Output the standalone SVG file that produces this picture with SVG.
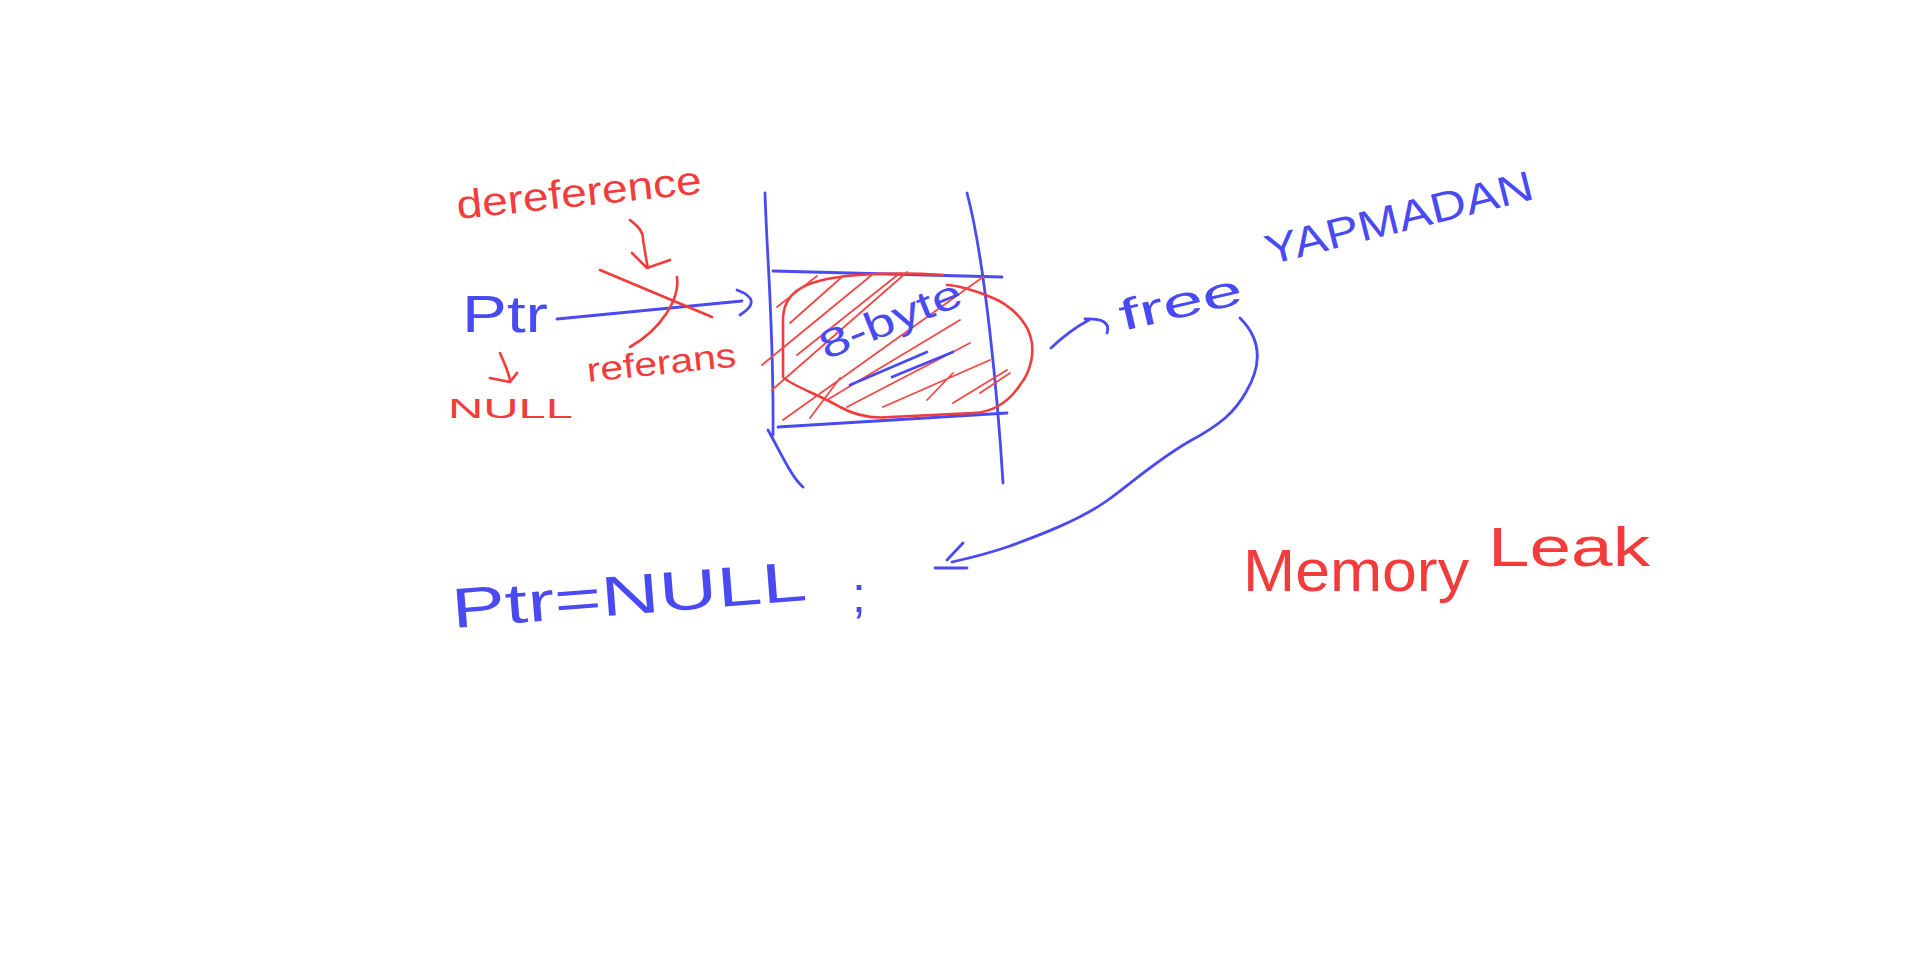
<svg xmlns="http://www.w3.org/2000/svg" width="1920" height="966" viewBox="0 0 1920 966">
<style>
.b{fill:none;stroke:#4a4af2;stroke-width:2.8;stroke-linecap:round;stroke-linejoin:round}
.r{fill:none;stroke:#f23c3c;stroke-width:2.6;stroke-linecap:round;stroke-linejoin:round}
.rh{fill:none;stroke:#f24848;stroke-width:1.8;stroke-linecap:round;stroke-linejoin:round}
.tb{fill:#4a4af2;font-family:"Liberation Sans",sans-serif}
.tr{fill:#f23c3c;font-family:"Liberation Sans",sans-serif}
</style>
<rect width="1920" height="966" fill="#ffffff"/>
<g id="memory-block">
<path class="b" d="M765,193 C767,260 774,330 773,435 M768,430 C782,455 792,478 803,487"/>
<path class="b" d="M967,193 C985,260 998,400 1003,483"/>
<path class="b" d="M773,271 L1002,277"/>
<path class="b" d="M778,427 L1007,413"/>
<path class="r" d="M943,275 C900,272 860,274 840,277 C800,282 783,295 783,320 L783,377 C790,385 820,395 840,407 C860,418 880,418 890,417 L973,413 C995,412 1010,400 1020,385 C1032,370 1035,350 1030,335 C1025,320 1010,305 993,298 C975,290 955,285 947,285"/>
<path class="rh" d="M777,307 L817,276 M790,323 L843,276 M762,365 L873,274 M797,355 L900,273 M772,390 L907,272 M783,420 L983,277 M810,418 L840,378 M827,400 L960,320 M847,407 L970,343 M883,407 L990,360 M927,400 L953,373 M953,403 L1007,370 M980,393 L1010,373"/>
<text class="tb" x="826" y="360" font-size="40" textLength="150" lengthAdjust="spacingAndGlyphs" transform="rotate(-22 826 360)">8-byte</text>
<path class="b" d="M850,385 L927,352 M892,377 L953,352"/>
</g>
<g id="ptr">
<text class="tb" x="462" y="332" font-size="52" textLength="86" lengthAdjust="spacingAndGlyphs">Ptr</text>
</g>
<g id="dereference-label">
<text class="tr" x="458" y="219" font-size="40" textLength="246" lengthAdjust="spacingAndGlyphs" transform="rotate(-6 458 219)">dereference</text>
</g>
<g id="referans-label">
<text class="tr" x="588" y="382" font-size="34" textLength="150" lengthAdjust="spacingAndGlyphs" transform="rotate(-6 588 382)">referans</text>
</g>
<g id="null-label">
<text class="tr" x="448" y="418" font-size="28" textLength="125" lengthAdjust="spacingAndGlyphs">NULL</text>
</g>
<g id="free-label">
<text class="tb" x="1123" y="331" font-size="44" textLength="125" lengthAdjust="spacingAndGlyphs" transform="rotate(-13 1123 331)">free</text>
</g>
<g id="yapmadan-label">
<text class="tb" x="1269" y="265" font-size="42" textLength="275" lengthAdjust="spacingAndGlyphs" transform="rotate(-14 1269 265)">YAPMADAN</text>
</g>
<g id="ptr-null-statement">
<text class="tb" x="453" y="628" font-size="56" textLength="356" lengthAdjust="spacingAndGlyphs" transform="rotate(-4.5 453 628)">Ptr=NULL</text>
<text class="tb" x="852" y="612" font-size="50">;</text>
</g>
<g id="memory-leak-label">
<text class="tr" x="1243" y="591" font-size="60" textLength="226" lengthAdjust="spacingAndGlyphs">Memory</text>
<text class="tr" x="1488" y="566" font-size="56" textLength="162" lengthAdjust="spacingAndGlyphs">Leak</text>
</g>
<g id="connectors">
<path class="b" d="M557,319 L742,301 M737,290 Q764,300 740,315"/>
<path class="r" d="M600,270 L712,317 M677,277 C680,300 660,330 630,347"/>
<path class="r" d="M630,220 C638,226 644,232 643,240 C645,250 646,260 648,268 M632,253 L647,268 L670,260"/>
<path class="r" d="M500,353 C505,365 510,375 510,382 M490,378 L510,382 L517,373"/>
<path class="b" d="M1051,348 Q1070,330 1089,320 M1085,319 Q1112,318 1107,333"/>
<path class="b" d="M1240,318 C1262,340 1262,365 1246,392 C1235,412 1220,425 1190,441 C1160,458 1135,480 1108,500 C1080,520 1040,535 1010,546 C990,553 970,558 952,562 M963,543 L947,560 M935,568 L967,568"/>
</g>
</svg>
